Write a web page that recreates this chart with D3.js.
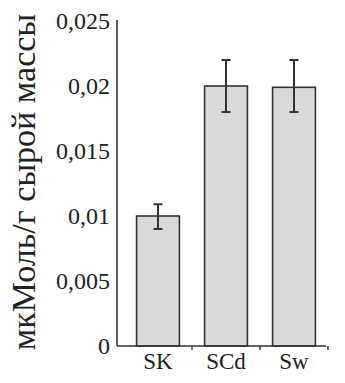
<!DOCTYPE html>
<html>
<head>
<meta charset="utf-8">
<script src="https://cdn.jsdelivr.net/npm/d3@7"></script>
<style>
  body { margin: 0; background: #fff; }
  svg text { font-family: 'Liberation Serif', 'Times New Roman', serif; fill: #222; }
</style>
</head>
<body>
<div id="chart"></div>
<script>
// ----------------------
// Data
// ----------------------
const categories = ["SK", "SCd", "Sw"];
const values = [0.01, 0.02, 0.0199];
const errLow = [0.009, 0.018, 0.018];
const errHigh = [0.0109, 0.022, 0.022];
const yTicks = [0, 0.005, 0.01, 0.015, 0.02, 0.025];
const yTickLabels = ["0", "0,005", "0,01", "0,015", "0,02", "0,025"];

// ----------------------
// Setup
// ----------------------
const W = 345, H = 383;
const axisX = 117;
const svg = d3.select("#chart").append("svg")
    .attr("width", W)
    .attr("height", H);

const y = d3.scaleLinear()
    .domain([0, 0.025])
    .range([346, 21]);

const x = d3.scaleBand()
    .domain(categories)
    .range([124, 328])
    .paddingInner(0.37)
    .paddingOuter(0.185);

// Bars
svg.selectAll("rect.bar")
    .data(categories)
    .enter().append("rect")
    .attr("class", "bar")
    .attr("x", d => x(d))
    .attr("width", x.bandwidth())
    .attr("y", (d, i) => y(values[i]))
    .attr("height", (d, i) => y(0) - y(values[i]))
    .attr("fill", "#d9d9d9")
    .attr("stroke", "#333")
    .attr("stroke-width", 1.6);

// Error bars
const eb = svg.selectAll("g.err")
    .data(categories)
    .enter().append("g")
    .attr("class", "err")
    .attr("stroke", "#333")
    .attr("stroke-width", 2);

eb.append("line")
    .attr("x1", d => x(d) + x.bandwidth() / 2)
    .attr("x2", d => x(d) + x.bandwidth() / 2)
    .attr("y1", (d, i) => y(errLow[i]))
    .attr("y2", (d, i) => y(errHigh[i]));

eb.append("line")
    .attr("x1", d => x(d) + x.bandwidth() / 2 - 4.5)
    .attr("x2", d => x(d) + x.bandwidth() / 2 + 4.5)
    .attr("y1", (d, i) => y(errHigh[i]))
    .attr("y2", (d, i) => y(errHigh[i]));

eb.append("line")
    .attr("x1", d => x(d) + x.bandwidth() / 2 - 4.5)
    .attr("x2", d => x(d) + x.bandwidth() / 2 + 4.5)
    .attr("y1", (d, i) => y(errLow[i]))
    .attr("y2", (d, i) => y(errLow[i]));

// Y axis line (no ticks)
svg.append("line")
    .attr("x1", axisX).attr("x2", axisX)
    .attr("y1", y(0.025) - 1).attr("y2", y(0))
    .attr("stroke", "#333")
    .attr("stroke-width", 1.6);

// Y tick labels
svg.selectAll("text.ytick")
    .data(yTicks)
    .enter().append("text")
    .attr("class", "ytick")
    .attr("x", 110)
    .attr("y", d => y(d) + 8)
    .attr("text-anchor", "end")
    .style("font-size", "24px")
    .text((d, i) => yTickLabels[i]);

// X axis line
svg.append("line")
    .attr("x1", axisX).attr("x2", 326)
    .attr("y1", y(0)).attr("y2", y(0))
    .attr("stroke", "#333")
    .attr("stroke-width", 1.6);

// X tick marks between categories
const xTickPos = categories.slice(1).map(d => x(d) - x.step() * x.paddingInner() / 2);
xTickPos.push(x(categories[2]) + x.bandwidth() + x.step() * x.paddingInner() / 2);
svg.selectAll("line.xtick")
    .data(xTickPos)
    .enter().append("line")
    .attr("class", "xtick")
    .attr("x1", d => d).attr("x2", d => d)
    .attr("y1", y(0)).attr("y2", y(0) + 4)
    .attr("stroke", "#333")
    .attr("stroke-width", 1.4);

// Category labels
svg.selectAll("text.xlab")
    .data(categories)
    .enter().append("text")
    .attr("class", "xlab")
    .attr("x", d => x(d) + x.bandwidth() / 2)
    .attr("y", 369)
    .attr("text-anchor", "middle")
    .style("font-size", "23px")
    .text(d => d);

// Y axis title
svg.append("text")
    .attr("transform", "translate(35,182) rotate(-90)")
    .attr("text-anchor", "middle")
    .style("font-size", "34px")
    .text("мкМоль/г сырой массы");
</script>
</body>
</html>
